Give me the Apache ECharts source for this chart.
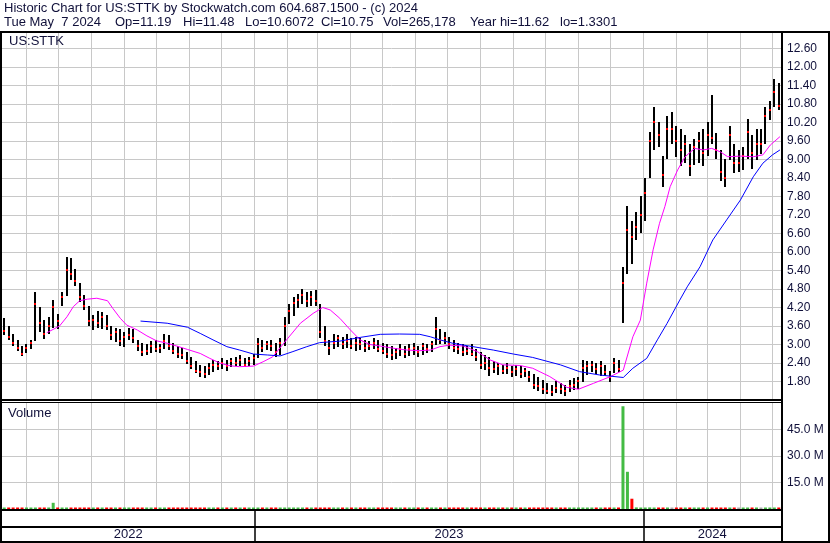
<!DOCTYPE html>
<html><head><meta charset="utf-8">
<script src="https://cdn.jsdelivr.net/npm/echarts@6/dist/echarts.min.js"></script>
<style>html,body{margin:0;padding:0;background:#fff}#c{width:830px;height:543px}</style>
</head><body><div id="c"></div>
<script>
// ---------------- DATA ----------------
const startDate = '2022-05-09';
const endDate = '2024-05-09';
const titleLine1 = 'Historic Chart for US:STTK by Stockwatch.com 604.687.1500 - (c) 2024';
const titleTokens = ['Tue May  7 2024', 'Op=11.19', 'Hi=11.48', 'Lo=10.6072', 'Cl=10.75', 'Vol=265,178', 'Year hi=11.62', 'lo=1.3301'];
const symbolLabel = 'US:STTK';
const volumeLabel = 'Volume';
const priceTicks = [1.8, 2.4, 3.0, 3.6, 4.2, 4.8, 5.4, 6.0, 6.6, 7.2, 7.8, 8.4, 9.0, 9.6, 10.2, 10.8, 11.4, 12.0, 12.6];
const volumeTicks = [15, 30, 45]; // millions
const monthStarts = ['2022-06-01','2022-07-01','2022-08-01','2022-09-01','2022-10-01','2022-11-01','2022-12-01',
  '2023-01-01','2023-02-01','2023-03-01','2023-04-01','2023-05-01','2023-06-01','2023-07-01','2023-08-01','2023-09-01','2023-10-01','2023-11-01','2023-12-01',
  '2024-01-01','2024-02-01','2024-03-01','2024-04-01','2024-05-01'];
const yearStarts = ['2023-01-01', '2024-01-01'];
const yearLabels = ['2022', '2023', '2024'];

// one bar per ~3 trading days
const highs = [
  3.85,3.60,3.35,3.15,2.95,3.00,3.15,4.70,4.20,3.80,
  3.90,4.45,4.00,4.70,5.85,5.80,5.45,5.00,4.60,4.25,
  3.95,4.10,4.05,3.95,3.60,3.55,3.50,3.40,3.55,3.50,
  3.15,3.05,3.00,3.10,3.15,3.00,3.35,3.30,3.05,2.95,
  2.90,2.75,2.60,2.45,2.35,2.30,2.40,2.50,2.45,2.55,
  2.50,2.55,2.60,2.65,2.55,2.60,2.70,3.20,3.15,3.10,
  3.15,3.05,3.20,3.90,4.30,4.55,4.65,4.80,4.70,4.75,
  4.78,4.30,3.60,3.15,3.35,3.30,3.25,3.35,3.20,3.25,
  3.20,3.15,3.10,3.20,3.15,3.05,3.00,2.95,2.90,3.00,
  2.95,3.00,3.05,2.95,3.05,3.00,3.10,3.90,3.50,3.40,
  3.25,3.15,3.05,3.00,2.95,3.00,2.85,2.75,2.65,2.60,
  2.45,2.40,2.35,2.40,2.30,2.35,2.30,2.25,2.15,2.05,
  1.95,1.85,1.75,1.70,1.80,1.75,1.70,1.85,1.90,1.95,
  2.50,2.45,2.45,2.40,2.45,2.35,2.15,2.55,2.50,5.50,
  7.50,7.00,7.30,7.80,8.40,9.90,10.70,10.20,9.10,10.40,
  10.55,10.10,10.00,9.80,9.50,9.65,9.90,10.00,10.20,11.10,
  9.85,9.30,9.00,10.10,9.50,9.30,9.40,10.30,9.80,10.00,
  10.00,10.70,10.90,11.62,11.48];
const lows = [
  3.30,3.15,2.95,2.80,2.62,2.70,2.85,3.10,3.40,3.20,
  3.35,3.55,3.50,4.25,4.60,5.10,4.90,4.40,4.10,3.60,
  3.45,3.55,3.50,3.45,3.15,3.10,2.95,2.90,3.15,3.05,
  2.80,2.62,2.65,2.70,2.75,2.70,2.85,2.80,2.70,2.55,
  2.55,2.35,2.20,2.05,1.95,1.90,2.00,2.10,2.15,2.20,
  2.15,2.25,2.30,2.30,2.25,2.30,2.35,2.55,2.75,2.80,
  2.80,2.60,2.65,2.95,3.65,3.95,4.20,4.30,4.20,4.25,
  4.25,3.20,2.95,2.65,2.85,2.90,2.85,2.90,2.85,2.80,
  2.80,2.75,2.80,2.85,2.75,2.70,2.55,2.50,2.55,2.60,
  2.55,2.60,2.65,2.60,2.65,2.70,2.75,3.00,3.00,3.00,
  2.85,2.75,2.70,2.60,2.65,2.60,2.45,2.20,2.15,2.00,
  2.05,2.00,2.05,2.05,1.95,2.00,1.90,1.95,1.80,1.55,
  1.50,1.40,1.38,1.33,1.40,1.40,1.35,1.45,1.50,1.55,
  1.80,2.00,2.10,2.05,1.95,2.00,1.80,2.05,2.10,3.70,
  5.30,5.60,6.40,6.60,7.00,8.40,9.30,9.40,8.10,9.00,
  9.50,9.10,8.80,8.90,8.45,8.80,8.90,8.80,9.10,9.50,
  9.00,8.30,8.10,9.00,8.55,8.60,8.65,9.00,8.70,9.00,
  9.20,9.50,10.30,10.70,10.61];
const closes = [
  3.45,3.25,3.05,2.90,2.70,2.90,3.05,4.30,3.70,3.35,
  3.60,4.20,3.75,4.55,5.40,5.30,5.05,4.55,4.25,3.75,
  3.80,3.70,3.90,3.60,3.30,3.40,3.10,3.25,3.30,3.20,
  2.95,2.75,2.80,2.95,2.85,2.90,3.10,2.95,2.80,2.70,
  2.65,2.45,2.30,2.15,2.10,2.05,2.25,2.35,2.30,2.40,
  2.30,2.45,2.40,2.50,2.35,2.45,2.55,3.00,2.90,3.00,
  2.95,2.75,3.05,3.60,4.10,4.35,4.45,4.60,4.40,4.55,
  4.40,3.40,3.10,2.90,3.05,3.20,3.00,3.10,2.95,3.05,
  3.00,2.90,2.95,3.05,2.85,2.80,2.70,2.65,2.75,2.85,
  2.70,2.85,2.90,2.75,2.95,2.85,3.00,3.50,3.15,3.20,
  3.00,2.90,2.85,2.75,2.80,2.70,2.60,2.35,2.40,2.25,
  2.20,2.30,2.15,2.25,2.10,2.20,2.05,2.15,1.95,1.70,
  1.65,1.55,1.50,1.45,1.60,1.55,1.50,1.65,1.70,1.80,
  2.25,2.30,2.35,2.20,2.30,2.10,1.95,2.40,2.20,5.00,
  6.70,6.50,6.80,7.20,7.90,9.60,10.20,9.80,8.50,10.00,
  10.00,9.60,9.30,9.50,8.80,9.40,9.60,9.20,9.80,9.70,
  9.30,8.60,8.40,9.80,8.90,8.90,9.10,9.90,9.20,9.50,
  9.50,10.40,10.60,11.20,10.75];
// volume in millions
const volumes = [
  0.30,0.25,0.20,0.35,0.20,0.60,0.30,0.50,0.35,0.25,
  0.20,3.50,0.40,0.30,0.60,0.40,0.30,0.25,0.20,0.30,
  0.20,0.25,0.20,0.15,0.20,0.25,0.20,0.15,0.20,0.20,
  0.15,0.20,0.15,0.20,0.15,0.15,0.25,0.20,0.15,0.20,
  0.20,0.25,0.20,0.20,0.15,0.20,0.15,0.20,0.15,0.20,
  0.15,0.20,0.15,0.20,0.15,0.20,0.15,0.35,0.20,0.20,
  0.20,0.15,0.20,0.30,0.30,0.25,0.20,0.25,0.20,0.20,
  0.20,0.35,0.30,0.25,0.20,0.15,0.20,0.15,0.20,0.15,
  0.15,0.20,0.15,0.15,0.20,0.15,0.20,0.15,0.15,0.20,
  0.15,0.20,0.15,0.15,0.20,0.15,0.20,0.40,0.25,0.20,
  0.20,0.15,0.20,0.15,0.20,0.15,0.20,0.25,0.20,0.20,
  0.20,0.15,0.20,0.15,0.20,0.15,0.20,0.15,0.20,0.25,
  0.20,0.25,0.20,0.20,0.15,0.20,0.15,0.20,0.20,0.25,
  0.30,0.20,0.20,0.20,0.25,0.20,0.20,0.30,0.25,58.0,
  21.0,5.80,0.90,0.70,0.80,0.90,0.80,0.60,0.50,0.60,
  0.50,0.40,0.50,0.40,0.30,0.40,0.50,0.40,0.50,0.60,
  0.40,0.50,0.60,0.50,0.40,0.40,0.40,0.50,0.40,0.40,
  0.40,0.50,0.40,0.60,0.27];

// moving averages
const maShortDates = ['2022-06-20','2022-07-02','2022-07-09','2022-07-15','2022-07-21','2022-07-28','2022-08-06','2022-08-16','2022-08-21','2022-08-28',
  '2022-09-03','2022-09-13','2022-09-22','2022-10-01','2022-10-11','2022-10-20','2022-10-30','2022-11-11','2022-11-20','2022-11-30',
  '2022-12-09','2022-12-18','2022-12-31','2023-01-09','2023-01-18','2023-01-31','2023-02-13','2023-02-25','2023-03-06','2023-03-13',
  '2023-03-22','2023-04-01','2023-04-10','2023-04-19','2023-04-29','2023-05-11','2023-05-24','2023-06-05','2023-06-15','2023-06-24',
  '2023-07-03','2023-07-16','2023-07-29','2023-08-10','2023-08-22','2023-09-07','2023-09-19','2023-10-05','2023-10-21','2023-11-01',
  '2023-11-15','2023-12-01','2023-12-13','2023-12-22','2023-12-29','2024-01-04','2024-01-10','2024-01-16','2024-01-21','2024-01-26',
  '2024-02-02','2024-02-09','2024-02-18','2024-02-26','2024-03-05','2024-03-13','2024-03-20','2024-04-01','2024-04-13','2024-04-22',
  '2024-04-29','2024-05-08'];
const maShortValues = [3.38,3.60,3.90,4.23,4.42,4.47,4.50,4.42,4.17,3.85,
  3.63,3.47,3.28,3.12,3.04,2.95,2.84,2.71,2.55,2.39,
  2.31,2.28,2.30,2.44,2.60,3.15,3.69,4.01,4.20,4.12,
  3.85,3.47,3.15,3.00,2.95,2.88,2.82,2.80,2.82,2.93,
  2.98,2.95,2.77,2.50,2.34,2.32,2.23,1.96,1.61,1.55,
  1.74,1.96,2.17,3.25,3.79,4.99,6.07,6.93,7.47,8.12,
  8.66,9.09,9.36,9.31,9.36,9.25,9.09,9.11,9.09,9.15,
  9.47,9.74];
const maLongDates = ['2022-09-16','2022-10-11','2022-10-30','2022-11-11','2022-11-23','2022-12-06','2022-12-18','2022-12-31','2023-01-13','2023-01-25',
  '2023-02-06','2023-02-19','2023-03-03','2023-03-22','2023-04-10','2023-04-29','2023-05-17','2023-06-05','2023-06-15','2023-06-24',
  '2023-07-06','2023-07-25','2023-08-13','2023-09-01','2023-09-19','2023-10-15','2023-11-02','2023-11-21','2023-12-13','2023-12-22',
  '2024-01-04','2024-01-14','2024-01-23','2024-02-04','2024-02-11','2024-02-23','2024-03-06','2024-03-19','2024-04-01','2024-04-13',
  '2024-04-22','2024-05-01','2024-05-08'];
const maLongValues = [3.76,3.69,3.56,3.36,3.15,2.93,2.82,2.69,2.66,2.63,
  2.77,2.93,3.06,3.11,3.23,3.33,3.34,3.33,3.25,3.15,
  3.04,2.93,2.82,2.69,2.58,2.34,2.12,2.01,1.93,2.23,
  2.55,3.15,3.68,4.44,4.87,5.52,6.39,7.04,7.69,8.44,
  8.88,9.15,9.31];

// ---------------- BUILD ----------------
const FONT = '"Liberation Sans", Arial, sans-serif';
const TXT = '#10103a';
const GRID_C = '#c8c8c8';
const GREEN = '#44bb44', RED = '#ff0000', GREY = '#a8a8a8';
const ts = s => Date.parse(s + 'T00:00:00Z');
const T0 = ts(startDate), T1 = ts(endDate);
const N = highs.length;
const barTimes = highs.map((_, i) => T0 + (i + 0.5) * (T1 - T0) / N);
const ohlc = barTimes.map((x, i) => [x, highs[i], lows[i], closes[i]]);
const volData = barTimes.map((x, i) => {
  let c = GREEN;
  if (i > 0 && closes[i] < closes[i - 1]) c = RED;
  else if (i > 0 && closes[i] === closes[i - 1]) c = GREY;
  return { value: [x, volumes[i] * 1e6], itemStyle: { color: c } };
});
const maShort = maShortDates.map((d, i) => [ts(d), maShortValues[i]]);
const maLong = maLongDates.map((d, i) => [ts(d), maLongValues[i]]);
const monthTs = monthStarts.map(ts);
const yearTs = yearStarts.map(ts);
const bounds = [T0].concat(yearTs, [T1]);
const yearMid = yearLabels.map((_, i) => (bounds[i] + bounds[i + 1]) / 2);
function yearLabelFor(v) {
  for (let i = 0; i < yearLabels.length; i++) if (v >= bounds[i] && v <= bounds[i + 1]) return yearLabels[i];
  return '';
}

function renderBar(params, api) {
  const x = api.value(0);
  const hi = api.coord([x, api.value(1)]);
  const lo = api.coord([x, api.value(2)]);
  const cl = api.coord([x, api.value(3)]);
  const px = Math.round(hi[0]);
  return { type: 'group', children: [
    { type: 'rect', shape: { x: px - 1, y: Math.round(hi[1]), width: 2, height: Math.max(1, Math.round(lo[1] - hi[1])) }, style: { fill: '#000' } },
    { type: 'rect', shape: { x: px - 1, y: Math.round(cl[1]) - 1, width: 2, height: 2 }, style: { fill: RED } }
  ]};
}

const L = 2, R = 49;
const monthAxis = (gi) => ({
  type: 'value', gridIndex: gi, min: T0, max: T1, scale: true,
  axisLine: { show: false },
  axisTick: { show: false, customValues: monthTs },
  axisLabel: { show: false },
  splitLine: { show: true, lineStyle: { color: GRID_C, width: 1 } }
});

const option = {
  animation: false,
  backgroundColor: '#fff',
  grid: [
    { left: L, right: R, top: 32, height: 368 },
    { left: L, right: R, top: 402, height: 107 },
    { left: L, right: R, top: 510, height: 17 }
  ],
  xAxis: [
    monthAxis(0),
    monthAxis(1),
    {
      type: 'value', gridIndex: 2, min: T0, max: T1, scale: true,
      axisLine: { show: true, onZero: false, lineStyle: { color: '#000', width: 2 } },
      axisTick: { show: true, customValues: yearTs, length: 14, lineStyle: { color: '#000', width: 1.5 } },
      axisLabel: { show: true, customValues: yearMid, formatter: v => yearLabelFor(v), color: TXT, fontFamily: FONT, fontSize: 13, margin: 1 },
      splitLine: { show: true, lineStyle: { color: '#000', width: 1.5 } }
    }
  ],
  yAxis: [
    {
      type: 'value', gridIndex: 0, position: 'right', min: 1.2, max: 13.135,
      axisLine: { show: false },
      axisTick: { show: false, customValues: priceTicks },
      axisLabel: { customValues: priceTicks, formatter: v => v.toFixed(2), color: TXT, fontFamily: FONT, fontSize: 12, margin: 6 },
      splitLine: { show: true, lineStyle: { color: GRID_C, width: 1 } }
    },
    {
      type: 'value', gridIndex: 1, position: 'right', min: 0, max: 60.4e6,
      axisLine: { show: false },
      axisTick: { show: false, customValues: volumeTicks.map(v => v * 1e6) },
      axisLabel: { customValues: volumeTicks.map(v => v * 1e6), formatter: v => (v / 1e6).toFixed(1) + ' M', color: TXT, fontFamily: FONT, fontSize: 12, margin: 6 },
      splitLine: { show: true, lineStyle: { color: GRID_C, width: 1 } }
    },
    { type: 'value', gridIndex: 2, min: 0, max: 1, show: false }
  ],
  series: [
    { type: 'custom', name: 'Price', xAxisIndex: 0, yAxisIndex: 0, renderItem: renderBar,
      dimensions: ['t', 'hi', 'lo', 'cl'], encode: { x: 0, y: [1, 2, 3] }, data: ohlc, clip: true, z: 3 },
    { type: 'line', name: 'MA short', xAxisIndex: 0, yAxisIndex: 0, data: maShort, symbol: 'none',
      lineStyle: { color: '#ff00ff', width: 1 }, z: 4 },
    { type: 'line', name: 'MA long', xAxisIndex: 0, yAxisIndex: 0, data: maLong, symbol: 'none',
      lineStyle: { color: '#0000ff', width: 1 }, z: 4 },
    { type: 'bar', name: 'Volume', xAxisIndex: 1, yAxisIndex: 1, data: volData, barWidth: 3, barMinHeight: 1.5, z: 3 }
  ],
  graphic: []
};

// text
const tokenX = [4, 115, 183, 245, 321, 383, 470, 560];
const g = option.graphic;
g.push({ type: 'text', x: 4, y: 8, z: 50, style: { text: titleLine1, font: '13px ' + FONT, fill: TXT, verticalAlign: 'middle' } });
titleTokens.forEach((t, i) => g.push({ type: 'text', x: tokenX[i], y: 22, z: 50,
  style: { text: t, font: '13px ' + FONT, fill: TXT, verticalAlign: 'middle' } }));
g.push({ type: 'text', x: 9, y: 41, z: 50, style: { text: symbolLabel, font: '13px ' + FONT, fill: TXT, verticalAlign: 'middle' } });
g.push({ type: 'text', x: 8, y: 413, z: 50, style: { text: volumeLabel, font: '13px ' + FONT, fill: TXT, verticalAlign: 'middle' } });
// frame lines
const box = (x, y, w, h) => ({ type: 'rect', z: 60, shape: { x, y, width: w, height: h }, style: { fill: '#000' } });
g.push(box(0, 31, 830, 2));
g.push(box(0, 31, 2, 512));
g.push(box(828, 31, 2, 512));
g.push(box(0, 541, 830, 2));
g.push(box(781, 31, 2, 512));
g.push(box(0, 399, 781, 2));
g.push(box(0, 402, 781, 1));
g.push(box(0, 509, 781, 2));

const chart = echarts.init(document.getElementById('c'), null, { renderer: 'canvas' });
chart.setOption(option);
</script>
</body></html>
